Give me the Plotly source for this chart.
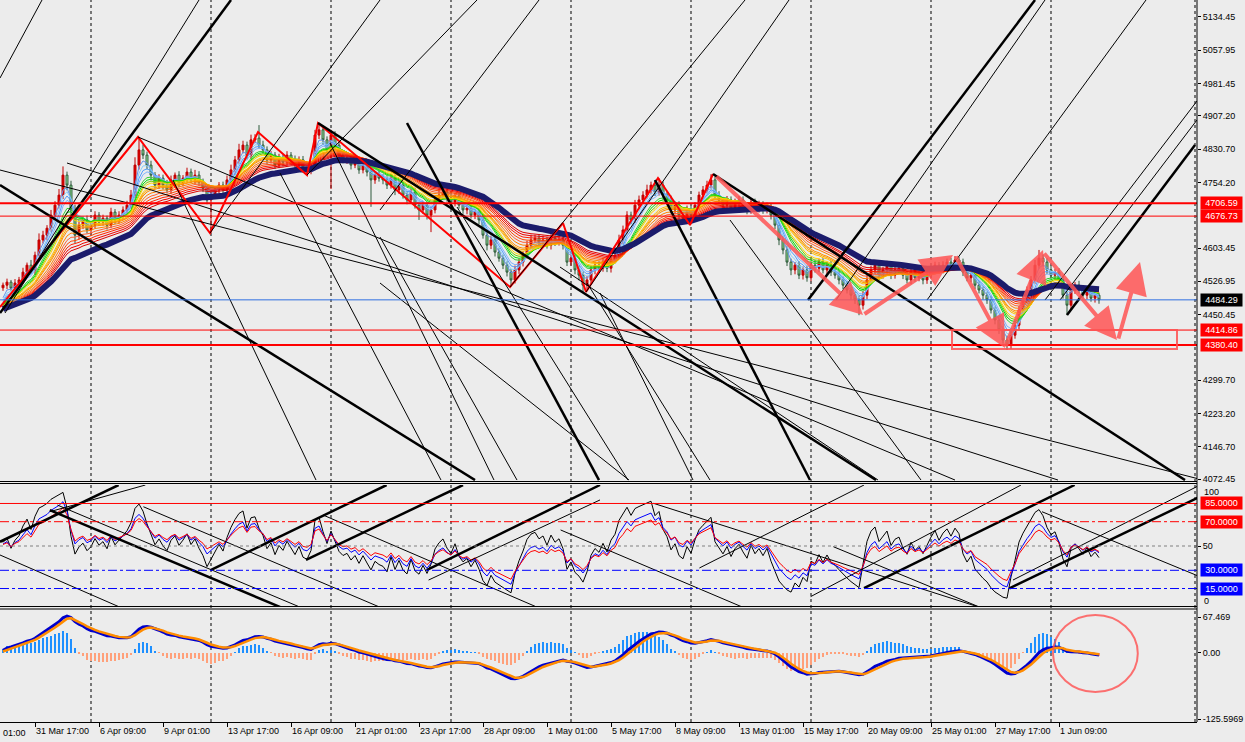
import plotly.graph_objects as go

W, H = 1245, 742

# ---------------- data (H4 bars, index 0 = first visible bar) ----------------
close = [
    4518, 4525, 4511, 4523, 4530, 4548, 4564, 4553, 4587, 4622,
    4633, 4649, 4679, 4702, 4725, 4771, 4748, 4691, 4633, 4656,
    4668, 4645, 4656, 4679, 4663, 4672, 4656, 4686, 4668, 4679,
    4691, 4702, 4725, 4794, 4829, 4817, 4794, 4771, 4748, 4764,
    4748, 4737, 4760, 4771, 4753, 4764, 4778, 4760, 4771, 4755,
    4741, 4714, 4725, 4737, 4748, 4737, 4760, 4783, 4806, 4829,
    4840, 4817, 4852, 4856, 4840, 4829, 4806, 4817, 4794, 4810,
    4801, 4817, 4806, 4794, 4806, 4787, 4783, 4794, 4863, 4875,
    4852, 4829, 4863, 4840, 4817, 4806, 4810, 4794, 4801, 4783,
    4794, 4778, 4760, 4771, 4764, 4760, 4748, 4764, 4737, 4748,
    4725, 4714, 4732, 4702, 4691, 4702, 4679, 4691, 4714, 4725,
    4732, 4718, 4709, 4723, 4702, 4691, 4695, 4679, 4686, 4668,
    4633, 4610, 4622, 4594, 4580, 4564, 4548, 4530, 4553, 4571,
    4587, 4610, 4622, 4626, 4617, 4622, 4610, 4626, 4617, 4622,
    4610, 4571, 4580, 4553, 4541, 4518, 4530, 4553, 4564, 4557,
    4571, 4557, 4576, 4587, 4622, 4645, 4679, 4668, 4702, 4714,
    4725, 4737, 4748, 4732, 4748, 4725, 4714, 4691, 4702, 4679,
    4672, 4691, 4679, 4702, 4725, 4737, 4748, 4760, 4725, 4714,
    4702, 4714, 4695, 4707, 4714, 4702, 4691, 4709, 4695, 4702,
    4691, 4700, 4679, 4656, 4622, 4599, 4571, 4553, 4564, 4541,
    4553, 4535, 4564, 4557, 4571, 4553, 4564, 4548, 4541, 4530,
    4518, 4507, 4495, 4484, 4472, 4495, 4530, 4553, 4564, 4541,
    4553, 4564, 4541, 4553, 4557, 4541, 4530, 4548, 4535, 4541,
    4530, 4541, 4553, 4564, 4553, 4564, 4571, 4564, 4576, 4571,
    4548, 4535, 4541, 4518, 4507, 4495, 4484, 4461, 4438, 4415,
    4392, 4380, 4403, 4426, 4461, 4484, 4507, 4530, 4564, 4580,
    4571, 4553, 4541, 4548, 4530, 4495, 4472, 4507, 4518, 4507,
    4495, 4507, 4488, 4495, 4484.29,
]
first_open = 4512
up_wick = [
    6, 8, 5, 9, 7, 10, 6, 12, 8, 15, 10, 7, 12, 9, 14, 20, 8, 10, 12, 9, 8, 10, 6, 9, 7,
    8, 6, 10, 7, 9, 8, 10, 12, 18, 30, 12, 8, 10, 7, 9, 8, 12, 10, 6, 9, 7, 10, 8, 12, 9,
    8, 6, 10, 9, 7, 8, 10, 12, 9, 14, 10, 8, 12, 9, 30, 10, 8, 9, 7, 10, 8, 9, 7, 10, 8,
    9, 7, 10, 12, 16, 10, 8, 12, 9, 7, 8, 10, 7, 9, 8, 10, 7, 9, 8, 10, 9, 8, 10, 7, 9,
    8, 9, 7, 10, 8, 9, 7, 8, 10, 12, 8, 9, 10, 7, 9, 8, 10, 9, 7, 8, 9, 7, 10, 8, 9,
    8, 9, 7, 10, 8, 9, 10, 12, 8, 9, 10, 7, 9, 8, 10, 12, 8, 9, 7, 10, 8, 9, 10, 8, 9,
    10, 8, 9, 7, 12, 10, 9, 8, 12, 10, 9, 12, 8, 10, 16, 8, 9, 10, 7, 9, 8, 10, 9, 7, 8,
    9, 10, 13, 8, 9, 7, 9, 8, 10, 9, 8, 7, 9, 8, 10, 9, 8, 7, 9, 8, 10, 9, 8, 7, 9,
    8, 10, 9, 12, 8, 9, 7, 10, 8, 9, 8, 9, 7, 8, 10, 9, 12, 10, 8, 9, 7, 10, 9, 8, 9,
    8, 9, 10, 7, 9, 8, 10, 9, 8, 7, 9, 8, 10, 9, 7, 8, 9, 10, 7, 9, 8, 7, 9, 8, 10,
    9, 10, 8, 12, 9, 10, 8, 9, 12, 19, 8, 9, 10, 8, 9, 10, 8, 9, 7, 10, 8, 9, 7, 8, 6,
]
dn_wick = [
    7, 9, 6, 8, 10, 7, 9, 8, 12, 10, 8, 12, 9, 10, 8, 9, 12, 15, 18, 10, 9, 8, 10, 7, 9,
    8, 10, 7, 9, 8, 10, 9, 8, 7, 10, 9, 10, 12, 8, 9, 10, 8, 9, 7, 10, 8, 9, 7, 10, 8,
    9, 10, 76, 9, 8, 7, 9, 8, 10, 9, 8, 10, 9, 7, 8, 9, 10, 8, 9, 7, 10, 8, 9, 10, 8,
    9, 8, 10, 7, 9, 10, 8, 90, 9, 10, 8, 9, 10, 7, 9, 8, 10, 62, 9, 8, 10, 9, 8, 12, 9,
    8, 10, 9, 8, 23, 9, 10, 39, 8, 9, 10, 8, 9, 10, 8, 9, 10, 8, 9, 10, 8, 12, 9, 10, 8,
    9, 10, 16, 8, 9, 10, 8, 9, 7, 10, 9, 8, 10, 9, 8, 10, 9, 8, 10, 12, 16, 9, 8, 10, 9,
    8, 9, 10, 8, 9, 10, 8, 9, 7, 10, 9, 8, 10, 9, 8, 10, 9, 8, 10, 9, 8, 10, 9, 8, 10,
    9, 8, 10, 9, 8, 10, 9, 8, 10, 9, 8, 10, 9, 8, 10, 9, 8, 10, 9, 12, 10, 9, 12, 10, 9,
    10, 9, 8, 10, 9, 8, 10, 9, 8, 10, 9, 8, 10, 9, 23, 10, 9, 8, 10, 9, 8, 10, 9, 8, 10,
    9, 8, 10, 9, 8, 10, 9, 8, 10, 9, 8, 10, 9, 8, 10, 9, 8, 10, 9, 8, 10, 9, 8, 10, 9,
    8, 11, 9, 8, 10, 9, 8, 10, 9, 8, 10, 9, 8, 10, 9, 8, 23, 10, 9, 8, 10, 9, 8, 10, 9,
]

tick_bars = [8, 24, 40, 56, 72, 88, 104, 120, 136, 152, 168, 184, 200, 216, 232, 248, 264]
tick_text = ["31 Mar 17:00", "6 Apr 09:00", "9 Apr 01:00", "13 Apr 17:00", "16 Apr 09:00",
             "21 Apr 01:00", "23 Apr 17:00", "28 Apr 09:00", "1 May 01:00", "5 May 17:00",
             "8 May 09:00", "13 May 01:00", "15 May 17:00", "20 May 09:00", "25 May 01:00",
             "27 May 17:00", "1 Jun 09:00"]
cut_label = "01:00"
grid_bars = [22, 52, 82, 112, 142, 172, 202, 232, 262, 298]

price_ticks = [5134.45, 5057.95, 4981.45, 4907.20, 4830.70, 4754.20, 4603.45,
               4526.95, 4450.45, 4299.70, 4223.20, 4146.70, 4072.45]
red_levels = [4706.59, 4676.73, 4414.86, 4380.40]
red_widths = [2, 1, 1, 2]
bid_price = 4484.29

osc_levels = [85, 70, 50, 30, 15]
macd_ticks = [67.469, 0.0, -125.5969]
macd_ticktext = ["67.469", "0.00", "-125.5969"]

ribbon_periods = [3, 4, 5, 6, 8, 9, 10, 11, 13, 14, 15, 17, 19, 21, 23, 25, 27]
ribbon_colors = ["#6495ed", "#87cefa", "#4f9cff", "#7fb2ff", "#32cd32", "#00e000",
                 "#7ccd00", "#ffd700", "#ffc000", "#ffa500", "#ff8c00", "#ff7f00",
                 "#ff6030", "#ff4500", "#ff2000", "#ee0000", "#dd0000"]
navy_period = 34
ema_seed = 4460
rsi_periods = [7, 12, 16]
rsi_colors = ["#000000", "#0000ff", "#ff0000"]
hist_gain = 2.0

# zigzag (bar, price)
zz_bar = [-0.75, 33.75, 51.75, 63.75, 76, 78.75, 126.75, 140, 145.75, 163.75, 171.75, 177.5]
zz_price = [4467.8, 4858.6, 4637.9, 4870.1, 4771.2, 4890.8, 4513.8, 4660.9, 4502.3, 4764.3, 4656.3, 4773.5]

# trend lines in main pane: (bar0, price0, bar1, price1, width)
main_lines = [
    (-0.75, 4454.0, 57.0, 5173.5, 2.5),
    (-0.75, 4748.2, 118.0, 4070.1, 2.5),
    (78.75, 4890.8, 218.25, 4070.1, 2.5),
    (177.5, 4773.5, 295.5, 4070.1, 2.5),
    (101.0, 4890.8, 149.0, 4070.1, 2.5),
    (163.0, 4759.7, 201.75, 4070.1, 2.5),
    (201.25, 4483.9, 258.0, 5173.5, 2.5),
    (266.0, 4449.4, 298.0, 4840.2, 2.5),
    (-0.75, 4994.2, 9.75, 5173.5, 1),
    (16.0, 4798.8, 263.75, 4070.1, 1),
    (33.75, 4858.6, 238.0, 4070.1, 1),
    (-0.75, 4782.7, 300.0, 4070.1, 1),
    (51.75, 4637.9, 94.25, 5173.5, 1),
    (76.0, 4771.2, 118.5, 5173.5, 1),
    (145.75, 4502.3, 196.5, 5173.5, 1),
    (126.75, 4513.8, 185.5, 5173.5, 1),
    (0.5, 4454.0, 49.0, 5173.5, 1),
    (42.5, 4759.7, 78.25, 4070.1, 1),
    (69.25, 4775.8, 109.5, 4070.1, 1),
    (81.75, 4844.8, 122.75, 4070.1, 1),
    (94.25, 4690.8, 134.0, 5173.5, 1),
    (113.5, 4697.7, 156.25, 4070.1, 1),
    (94.25, 4628.7, 128.5, 4070.1, 1),
    (94.25, 4523.0, 156.5, 4070.1, 1),
    (139.25, 4559.7, 218.75, 4070.1, 1),
    (146.0, 4523.0, 176.75, 4070.1, 1),
    (231.0, 4483.9, 285.75, 5173.5, 1),
    (181.75, 4667.8, 229.5, 4070.1, 1),
    (149.25, 4500.0, 172.5, 4070.1, 1),
    (260.5, 4483.9, 298.5, 4941.3, 1),
    (264.25, 4483.9, 298.5, 4897.7, 1),
    (208.25, 4483.9, 260.5, 5173.5, 1),
]
# trend lines in oscillator pane
osc_lines = [
    (-0.75, 53.5, 28.9, 100.2, 2.5), (11.7, 78.2, 35.6, 100.2, 1),
    (11.7, 79.6, 70.05, -1.3, 2.5), (13.6, 83.7, 74.75, -1.0, 1),
    (-0.75, 42.6, 29.9, -1.3, 1), (51.9, 30.2, 95.9, 100.2, 2.5),
    (35.1, 82.3, 94.9, -1.3, 1), (75.75, 38.5, 115.0, 100.2, 2.5),
    (80.0, 75.5, 134.2, -1.3, 1), (105.9, 30.2, 149.25, 100.2, 2.5),
    (106.4, 22.0, 149.25, 87.9, 1), (139.4, 63.2, 185.6, -1.3, 1),
    (162.65, 85.1, 245.0, -1.3, 1), (174.1, 31.9, 215.25, 100.2, 1),
    (215.25, 15.4, 267.9, 100.2, 2.5), (201.9, 8.3, 254.5, 100.2, 1),
    (251.6, 15.2, 299.25, 90.6, 2.5), (252.5, 22.0, 299.25, 100.2, 1),
    (259.75, 78.2, 299.25, 24.7, 1), (207.6, 49.4, 244.9, -1.3, 1),
]
# hand drawn arrows: (tail bar, tail price, head bar, head price)
arrows = [
    (178.0, 4771.2, 215.0, 4449.4),
    (215.0, 4449.4, 237.5, 4587.3),
    (238.0, 4587.3, 250.5, 4373.6),
    (250.5, 4373.6, 260.0, 4598.8),
    (260.0, 4594.2, 278.5, 4392.0),
    (278.75, 4392.0, 284.25, 4571.2),
]
box_bars = [237.25, 293.5]
box_prices = [4371.2, 4414.9]
circle_bars = [262.5, 283.7]
circle_vals = [-74.4, 71.3]

# ---------------- indicators ----------------
n = len(close)
bars = list(range(n))
opens = [first_open] + close[:-1]
highs = [max(o, c) + u for o, c, u in zip(opens, close, up_wick)]
lows = [min(o, c) - d for o, c, d in zip(opens, close, dn_wick)]


def ema(vals, period, seed):
    a = 2.0 / (period + 1)
    e = seed
    out = []
    for v in vals:
        e = e + a * (v - e)
        out.append(e)
    return out


def rsi(vals, period):
    ag, al = 8.0, 8.0
    out = []
    prev = first_open
    for v in vals:
        d = v - prev
        prev = v
        g, l = max(d, 0), max(-d, 0)
        ag = (ag * (period - 1) + g) / period
        al = (al * (period - 1) + l) / period
        out.append(100 - 100 / (1 + ag / al) if al > 0 else 100)
    return out


macd = [f - s for f, s in zip(ema(close, 12, ema_seed), ema(close, 26, ema_seed))]
signal = ema(macd, 3, 0)
hist = [hist_gain * (m - s) for m, s in zip(macd, ema(macd, 9, 0))]

fig = go.Figure()
FONT = "Liberation Sans"
FS = 9

for p, col in zip(ribbon_periods, ribbon_colors):
    fig.add_trace(go.Scatter(x=bars, y=ema(close, p, ema_seed), mode="lines",
                             line=dict(color=col, width=1), hoverinfo="skip"))
fig.add_trace(go.Scatter(x=bars, y=ema(close, navy_period, ema_seed), mode="lines",
                         line=dict(color="#1b1b6b", width=6), hoverinfo="skip"))
fig.add_trace(go.Candlestick(
    x=bars, open=opens, high=highs, low=lows, close=close,
    increasing=dict(line=dict(color="#c00000", width=1), fillcolor="#dd0000"),
    decreasing=dict(line=dict(color="#2f5a3c", width=1), fillcolor="#98ec98"),
    whiskerwidth=0, hoverinfo="skip"))
fig.add_trace(go.Scatter(x=zz_bar, y=zz_price, mode="lines",
                         line=dict(color="#ff0000", width=2), hoverinfo="skip"))


def add_lines(segs, yaxis):
    for wv in sorted(set(s[4] for s in segs)):
        xs, ys = [], []
        for b0, p0, b1, p1, w in segs:
            if w == wv:
                xs += [b0, b1, None]
                ys += [p0, p1, None]
        fig.add_trace(go.Scatter(x=xs, y=ys, mode="lines", yaxis=yaxis,
                                 line=dict(color="black", width=wv), hoverinfo="skip"))


add_lines(main_lines, "y")

# oscillator pane
for p, col in zip(rsi_periods, rsi_colors):
    fig.add_trace(go.Scatter(x=bars, y=rsi(close, p), mode="lines", yaxis="y2",
                             line=dict(color=col, width=1), hoverinfo="skip"))
add_lines(osc_lines, "y2")

# macd pane
fig.add_trace(go.Bar(x=bars, y=hist, yaxis="y3", width=0.6,
                     marker=dict(color=["#1e90ff" if h >= 0 else "#ffa07a" for h in hist], line=dict(width=0)),
                     hoverinfo="skip"))
fig.add_trace(go.Scatter(x=bars, y=macd, mode="lines", yaxis="y3",
                         line=dict(color="#0000cd", width=3), hoverinfo="skip"))
fig.add_trace(go.Scatter(x=bars, y=signal, mode="lines", yaxis="y3",
                         line=dict(color="#ff8c00", width=2.5), hoverinfo="skip"))

shapes = []


def py(px):
    return 1 - px / H


for gb in grid_bars:
    shapes.append(dict(type="line", xref="x", yref="paper", x0=gb, x1=gb, y0=py(722), y1=1,
                       line=dict(color="black", width=1, dash="3px,3px"), layer="below"))
for lv, lw in zip(red_levels, red_widths):
    shapes.append(dict(type="line", xref="x domain", yref="y", x0=0, x1=1, y0=lv, y1=lv,
                       line=dict(color="#ff0000", width=lw)))
shapes.append(dict(type="line", xref="x domain", yref="y", x0=0, x1=1, y0=bid_price, y1=bid_price,
                   line=dict(color="#2f6fe0", width=1)))
lvl_style = {85: ("#ff0000", "solid"), 70: ("#ff0000", "dashdot"), 50: ("#808080", "dot"),
             30: ("#0000ff", "dashdot"), 15: ("#0000ff", "dashdot")}
for lv in osc_levels:
    c, d = lvl_style[lv]
    shapes.append(dict(type="line", xref="x domain", yref="y2", x0=0, x1=1, y0=lv, y1=lv,
                       line=dict(color=c, width=1, dash=d)))
shapes.append(dict(type="rect", xref="x", yref="y", x0=box_bars[0], x1=box_bars[1],
                   y0=box_prices[0], y1=box_prices[1], line=dict(color="rgba(255,80,80,0.85)", width=2)))
shapes.append(dict(type="circle", xref="x", yref="y3", x0=circle_bars[0], x1=circle_bars[1],
                   y0=circle_vals[0], y1=circle_vals[1], line=dict(color="rgba(255,80,80,0.8)", width=2)))
# pane frames
for ypx in [481.5, 483.5, 606.5, 609.0]:
    shapes.append(dict(type="line", xref="paper", yref="paper", x0=0, x1=1197 / W, y0=py(ypx), y1=py(ypx),
                       line=dict(color="black", width=1)))
shapes.append(dict(type="line", xref="paper", yref="paper", x0=1197 / W, x1=1197 / W, y0=py(722), y1=1,
                   line=dict(color="black", width=1)))

annotations = []
for t0b, t0p, h1b, h1p in arrows:
    annotations.append(dict(x=h1b, y=h1p, ax=t0b, ay=t0p, xref="x", yref="y", axref="x", ayref="y",
                            showarrow=True, arrowhead=2, arrowsize=1.6, arrowwidth=4,
                            arrowcolor="rgba(255,85,85,0.85)", text=""))


def tag(y, yref, text, bg):
    annotations.append(dict(xref="paper", x=1199.5 / W, xanchor="left", yref=yref, y=y, yanchor="middle",
                            text=text, showarrow=False, bgcolor=bg, width=39, height=10, align="center",
                            borderpad=1, font=dict(family=FONT, size=FS, color="white")))


for lv in red_levels:
    tag(lv, "y", f"{lv:.2f}", "#ff0000")
tag(bid_price, "y", f"{bid_price:.2f}", "#000000")
tag(85, "y2", "85.0000", "#ff0000")
tag(70, "y2", "70.0000", "#ff0000")
tag(30, "y2", "30.0000", "#0000ff")
tag(15, "y2", "15.0000", "#0000ff")
for txt, ypx in [("100", 491.7), ("0", 600.7)]:
    annotations.append(dict(xref="paper", x=1202 / W, xanchor="left", yref="paper", y=py(ypx), yanchor="middle",
                            text=txt, showarrow=False, font=dict(family=FONT, size=FS, color="black")))
annotations.append(dict(xref="paper", x=1 / W, xanchor="left", yref="paper", y=py(733), yanchor="middle",
                        text=cut_label, showarrow=False, font=dict(family=FONT, size=FS, color="black")))

axis_common = dict(showgrid=False, zeroline=False, ticks="outside", ticklen=3, tickcolor="black",
                   tickfont=dict(family=FONT, size=FS, color="black"), side="right", anchor="x",
                   fixedrange=True, automargin=False)
fig.update_layout(
    width=W, height=H, margin=dict(l=0, r=0, t=0, b=0, autoexpand=False),
    paper_bgcolor="#ececec", plot_bgcolor="#ececec", showlegend=False,
    xaxis=dict(domain=[0, 1197 / W], range=[-0.75, 298.5], anchor="y3", showgrid=False, zeroline=False,
               tickvals=tick_bars, ticktext=tick_text, ticks="outside", ticklen=4, tickcolor="black",
               ticklabelposition="outside right", tickangle=0, automargin=False,
               showline=True, linecolor="black",
               tickfont=dict(family=FONT, size=FS, color="black"), rangeslider=dict(visible=False),
               fixedrange=True),
    yaxis=dict(domain=[py(481), 1], range=[4067.9, 5173.5], tickvals=price_ticks,
               ticktext=[f"{v:.2f}" for v in price_ticks], **axis_common),
    yaxis2=dict(domain=[py(607), py(485)], range=[-0.2, 100.2], tickvals=[50], ticktext=["50"], **axis_common),
    yaxis3=dict(domain=[py(722), py(609)], range=[-131.1, 82.7], tickvals=macd_ticks,
                ticktext=macd_ticktext, **axis_common),
    shapes=shapes, annotations=annotations, bargap=0,
)
fig.write_html("out.html")
